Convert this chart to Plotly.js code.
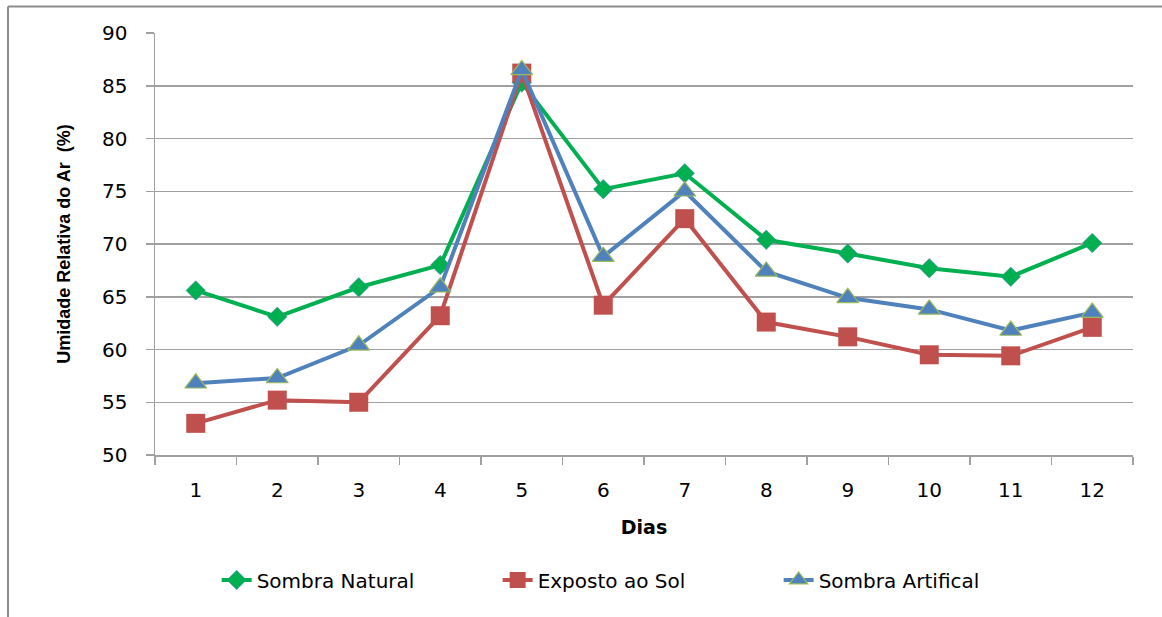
<!DOCTYPE html>
<html>
<head>
<meta charset="utf-8">
<script src="https://cdn.plot.ly/plotly-3.0.1.min.js"></script>
<style>
  html, body { margin: 0; padding: 0; background: #fff; }
  #chart { width: 1162px; height: 617px; }
</style>
</head>
<body>
<div id="chart"></div>
<script>
const dias = ["1","2","3","4","5","6","7","8","9","10","11","12"];
const sombraNatural = [65.6, 63.1, 65.9, 68.0, 85.3, 75.2, 76.7, 70.4, 69.1, 67.7, 66.9, 70.1];
const expostoAoSol = [53.0, 55.2, 55.0, 63.2, 86.2, 64.2, 72.4, 62.6, 61.2, 59.5, 59.4, 62.1];
const sombraArtificial = [56.8, 57.3, 60.4, 65.9, 86.5, 68.8, 75.0, 67.4, 64.9, 63.8, 61.8, 63.5];
const seriesNames = ["Sombra Natural", "Exposto ao Sol", "Sombra Artifical"];

const traces = [
  {
    x: dias, y: sombraNatural, name: seriesNames[0], type: "scatter", mode: "lines+markers",
    line: { color: "#00B050", width: 4 },
    marker: { symbol: "diamond", size: 15, color: "#00B050", line: { color: "#4F81BD", width: 0.5 } }
  },
  {
    x: dias, y: expostoAoSol, name: seriesNames[1], type: "scatter", mode: "lines+markers",
    line: { color: "#C0504D", width: 4 },
    marker: { symbol: "square", size: 19, color: "#C0504D", line: { color: "#C0504D", width: 0 } }
  },
  {
    x: dias, y: sombraArtificial, name: seriesNames[2], type: "scatter", mode: "lines+markers",
    line: { color: "#4F81BD", width: 4 },
    marker: { symbol: "triangle-up", size: 19, color: "#4F81BD", line: { color: "#9BBB59", width: 1.2 } }
  }
];

const layout = {
  width: 1162, height: 617,
  margin: { l: 155, r: 29, t: 33, b: 162 },
  paper_bgcolor: "#ffffff", plot_bgcolor: "#ffffff",
  font: { family: "DejaVu Sans, Verdana, sans-serif", color: "#000" },
  showlegend: true,
  legend: {
    orientation: "h", x: 0.494, xanchor: "center", y: -0.296, yanchor: "middle",
    font: { family: "DejaVu Sans, Verdana, sans-serif", size: 20, color: "#000" },
    entrywidth: 236, entrywidthmode: "pixels",
    tracegroupgap: 0, traceorder: "normal"
  },
  xaxis: {
    type: "category", tickson: "boundaries", range: [-0.5, 11.5], autorange: false,
    showgrid: false, zeroline: false,
    showline: true, linecolor: "#a0a0a0", linewidth: 1.5,
    ticks: "outside", ticklen: 8, tickcolor: "#a0a0a0", tickwidth: 1.5,
    ticklabelstandoff: 16,
    tickfont: { family: "DejaVu Sans, Verdana, sans-serif", size: 20, color: "#000" },
    title: { text: "Dias", font: { family: "DejaVu Sans, Verdana, sans-serif", size: 19, color: "#000", weight: "bold" }, standoff: 20 }
  },
  yaxis: {
    range: [50, 90], dtick: 5, tick0: 50, autorange: false,
    showgrid: true, gridcolor: "#a0a0a0", gridwidth: 1.5,
    zeroline: false,
    showline: true, linecolor: "#a0a0a0", linewidth: 1.5,
    ticks: "outside", ticklen: 8, tickcolor: "#a0a0a0", tickwidth: 1.5,
    ticklabelstandoff: 14,
    tickfont: { family: "DejaVu Sans, Verdana, sans-serif", size: 20, color: "#000" },
    title: { text: "Umidade Relativa do Ar  (%)", font: { family: "Liberation Sans Narrow, Liberation Sans, Arial, sans-serif", size: 18, color: "#000", weight: "bold" }, standoff: 26 }
  },
  shapes: [
    { type: "line", xref: "paper", yref: "paper", x0: (8 - 155) / 978, x1: 1.1, y0: (455 - 6.5) / 422, y1: (455 - 6.5) / 422,
      line: { color: "#8c8c8c", width: 2 } },
    { type: "line", xref: "paper", yref: "paper", x0: (8 - 155) / 978, x1: (8 - 155) / 978, y0: (455 - 6.5) / 422, y1: -0.5,
      line: { color: "#8c8c8c", width: 2 } }
  ]
};

Plotly.newPlot("chart", traces, layout, { displayModeBar: false, staticPlot: true });
</script>
</body>
</html>
